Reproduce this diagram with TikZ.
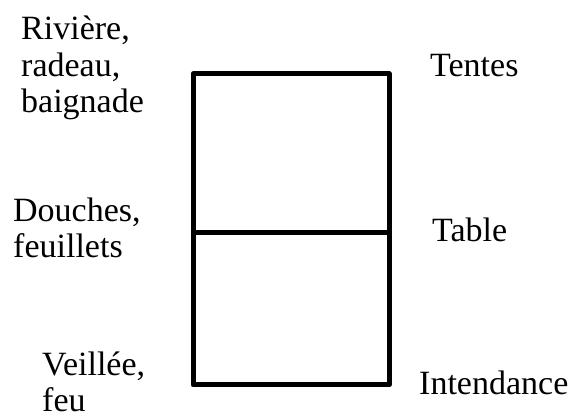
\documentclass[tikz,border=0pt]{standalone}
\usepackage{fontspec}
\setmainfont{Liberation Serif}
\begin{document}
\begin{tikzpicture}[x=1pt,y=-1pt,font=\fontsize{34}{36.5}\selectfont,line join=round,
  wall/.style={line width=5pt},
  zone/.style={anchor=base west,align=left,inner sep=0pt}]
\useasboundingbox (0,0) rectangle (573,419);
% plan du camp
\draw[wall] (193,74) rectangle (389,385);
\draw[wall] (193,233) -- (389,233);
% zones autour (base = derniere ligne)
\node[zone] (riviere) at (21,113) {Rivière,\\radeau,\\baignade};
\node[zone] (douches) at (13,258) {Douches,\\feuillets};
\node[zone] (veillee) at (42,412) {Veillée,\\feu};
\node[zone] (tentes) at (430,77) {Tentes};
\node[zone] (table) at (432,242) {Table};
\node[zone] (intendance) at (419,395) {Intendance};
\end{tikzpicture}
\end{document}
